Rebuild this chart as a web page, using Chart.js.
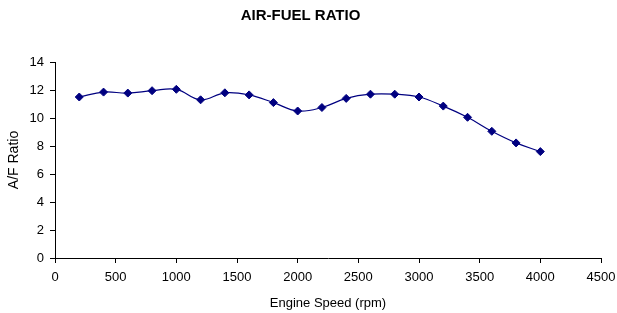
<!DOCTYPE html>
<html>
<head>
<meta charset="utf-8">
<script src="https://cdn.jsdelivr.net/npm/chart.js@4/dist/chart.umd.min.js"></script>
<style>
  html, body { margin: 0; padding: 0; background: #ffffff; }
  #wrap { width: 617px; height: 313px; }
</style>
</head>
<body>
<div id="wrap"><canvas id="c" width="617" height="313"></canvas></div>
<script>
const engineSpeed = [200, 400, 600, 800, 1000, 1200, 1400, 1600, 1800, 2000, 2200, 2400, 2600, 2800, 3000, 3200, 3400, 3600, 3800, 4000];
const afRatio = [11.5, 11.85, 11.78, 11.95, 12.05, 11.3, 11.8, 11.65, 11.1, 10.5, 10.75, 11.4, 11.7, 11.7, 11.5, 10.85, 10.05, 9.05, 8.22, 7.6];
const chartTitle = 'AIR-FUEL RATIO';
const xTitle = 'Engine Speed (rpm)';
const yTitle = 'A/F Ratio';

const points = engineSpeed.map((x, i) => ({ x: x, y: afRatio[i] }));
const font = 'Arial, "Liberation Sans", Helvetica, sans-serif';

new Chart(document.getElementById('c'), {
  type: 'line',
  data: {
    datasets: [{
      data: points,
      borderColor: '#000080',
      backgroundColor: '#000080',
      borderWidth: 1.2,
      tension: 0.4,
      cubicInterpolationMode: 'default',
      pointStyle: 'rectRot',
      pointRadius: 4,
      pointBorderWidth: 1,
      pointBorderColor: '#000080',
      pointBackgroundColor: '#000080',
      fill: false
    }]
  },
  options: {
    responsive: false,
    animation: false,
    devicePixelRatio: 1,
    layout: { padding: { left: 0, right: 16, top: 0, bottom: 0 } },
    plugins: {
      legend: { display: false },
      tooltip: { enabled: false },
      title: {
        display: true,
        text: chartTitle,
        color: '#000000',
        font: { family: font, size: 15, weight: 'bold' },
        padding: { top: 7, bottom: 37 }
      }
    },
    scales: {
      x: {
        type: 'linear',
        min: 0,
        max: 4500,
        afterFit: (s) => { s.height = 55; s.paddingLeft = 0; s.paddingRight = 0; },
        ticks: {
          stepSize: 500,
          color: '#000000',
          padding: 7,
          maxRotation: 0,
          autoSkip: false,
          callback: (v) => String(v),
          font: { family: font, size: 13 }
        },
        grid: {
          display: true,
          drawOnChartArea: false,
          drawTicks: true,
          tickLength: 5,
          color: '#000000'
        },
        border: { display: true, color: '#000000', width: 1 },
        title: {
          display: true,
          text: xTitle,
          color: '#000000',
          font: { family: font, size: 13 },
          padding: { top: 0, bottom: 2 }
        }
      },
      y: {
        type: 'linear',
        min: 0,
        max: 14,
        afterFit: (s) => { s.width = 55; },
        ticks: {
          stepSize: 2,
          color: '#000000',
          padding: 6,
          callback: (v) => String(v),
          font: { family: font, size: 13 }
        },
        grid: {
          display: true,
          drawOnChartArea: false,
          drawTicks: true,
          tickLength: 5,
          color: '#000000'
        },
        border: { display: true, color: '#000000', width: 1 },
        title: {
          display: true,
          text: yTitle,
          color: '#000000',
          font: { family: font, size: 14 },
          padding: { top: 6, bottom: 0 }
        }
      }
    }
  }
});
</script>
</body>
</html>
